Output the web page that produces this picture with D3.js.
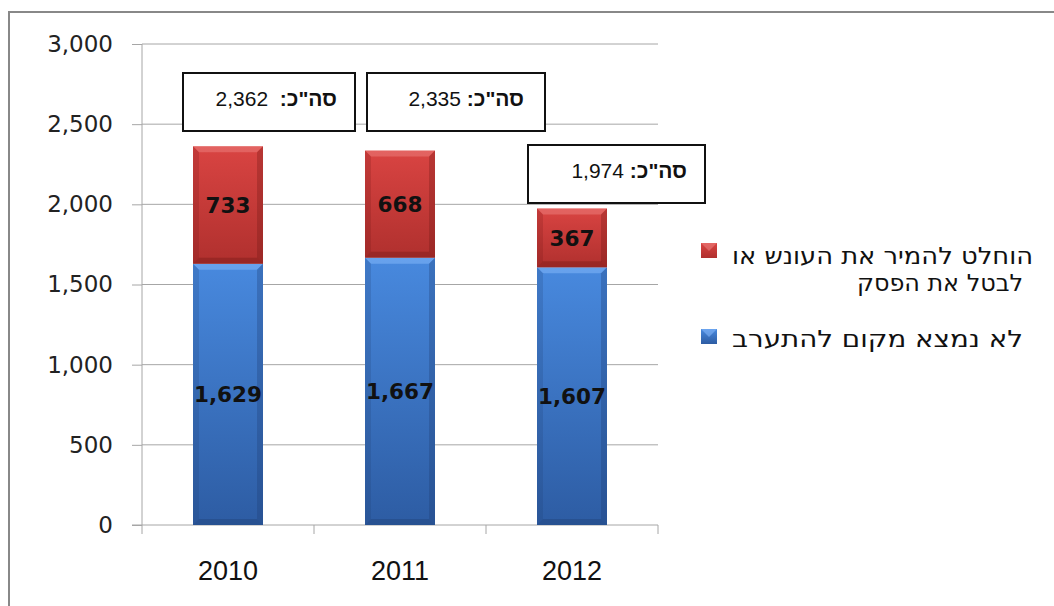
<!DOCTYPE html>
<html>
<head>
<meta charset="utf-8">
<script src="https://cdn.jsdelivr.net/npm/d3@7"></script>
<style>
  body { margin: 0; background: #fff; }
  svg { display: block; }
</style>
</head>
<body>
<div id="chart"></div>
<script>
const years = ["2010", "2011", "2012"]
const notFound = [1629, 1667, 1607]     // לא נמצא מקום להתערב
const changed = [733, 668, 367]         // הוחלט להמיר את העונש או לבטל את הפסק
const totalLabels = ["2,362", "2,335", "1,974"]
const yTicks = [0, 500, 1000, 1500, 2000, 2500, 3000]
const legendRed = ["הוחלט להמיר את העונש או", "לבטל את הפסק"]
const legendBlue = ["לא נמצא מקום להתערב"]

const width = 1054, height = 606
const svg = d3.select("#chart").append("svg")
  .attr("width", width).attr("height", height)

// outer frame
svg.append("path")
  .attr("d", "M9,620 L9,12 L1060,12")
  .attr("fill", "none").attr("stroke", "#888").attr("stroke-width", 2)

const x = d3.scaleBand().domain(years).range([142, 658]).paddingInner(0).paddingOuter(0)
const y = d3.scaleLinear().domain([0, 3000]).range([525, 44])
const barW = 70

const defs = svg.append("defs")
function grad(id, c1, c2) {
  const g = defs.append("linearGradient").attr("id", id)
    .attr("x1", 0).attr("y1", 0).attr("x2", 0).attr("y2", 1)
  g.append("stop").attr("offset", "0%").attr("stop-color", c1)
  g.append("stop").attr("offset", "100%").attr("stop-color", c2)
}
grad("gBlue", "#4889de", "#2d5ca3")
grad("gRed", "#d94442", "#b0302e")

// gridlines
svg.append("g").selectAll("line")
  .data(yTicks.filter(d => d > 0))
  .join("line")
    .attr("x1", 142).attr("x2", 658)
    .attr("y1", d => y(d)).attr("y2", d => y(d))
    .attr("stroke", "#a6a6a6").attr("stroke-width", 1)

// y axis
const yAxis = svg.append("g").attr("transform", "translate(142,0)")
  .call(d3.axisLeft(y).tickValues(yTicks).tickFormat(d3.format(",")).tickSize(10).tickPadding(19))
yAxis.select(".domain").attr("stroke", "#a6a6a6").attr("d", "M0," + y(0) + "V" + y(3000))
yAxis.selectAll(".tick line").attr("stroke", "#a6a6a6")
yAxis.selectAll("text").attr("font-family", "DejaVu Sans").attr("font-size", 23).attr("fill", "#222")

// x axis
const xg = svg.append("g")
xg.append("line").attr("x1", 132).attr("x2", 658).attr("y1", y(0)).attr("y2", y(0))
  .attr("stroke", "#a6a6a6")
xg.selectAll("line.tk").data([...years, null]).join("line").attr("class", "tk")
  .attr("x1", (d, i) => 142 + i * x.bandwidth()).attr("x2", (d, i) => 142 + i * x.bandwidth())
  .attr("y1", y(0)).attr("y2", y(0) + 9).attr("stroke", "#a6a6a6")
xg.selectAll("text").data(years).join("text")
  .attr("x", d => x(d) + x.bandwidth() / 2).attr("y", 580)
  .attr("text-anchor", "middle")
  .attr("font-family", "Liberation Sans, Arial").attr("font-size", 27).attr("fill", "#111")
  .text(d => d)

// bars with bevel
const data = years.map((yr, i) => ({ yr, blue: notFound[i], red: changed[i] }))
function bevelBar(g, x0, y0, w, h, fillId, light, dark) {
  const b = 6
  g.append("rect").attr("x", x0).attr("y", y0).attr("width", w).attr("height", h)
    .attr("fill", `url(#${fillId})`)
  g.append("polygon").attr("points", [[x0, y0], [x0 + w, y0], [x0 + w - b, y0 + b], [x0 + b, y0 + b]].join(" "))
    .attr("fill", light).attr("opacity", 0.45)
  g.append("polygon").attr("points", [[x0, y0], [x0 + b, y0 + b], [x0 + b, y0 + h - b], [x0, y0 + h]].join(" "))
    .attr("fill", dark).attr("opacity", 0.2)
  g.append("polygon").attr("points", [[x0 + w, y0], [x0 + w - b, y0 + b], [x0 + w - b, y0 + h - b], [x0 + w, y0 + h]].join(" "))
    .attr("fill", dark).attr("opacity", 0.3)
  g.append("polygon").attr("points", [[x0, y0 + h], [x0 + b, y0 + h - b], [x0 + w - b, y0 + h - b], [x0 + w, y0 + h]].join(" "))
    .attr("fill", dark).attr("opacity", 0.35)
}

const bars = svg.append("g")
data.forEach((d, i) => {
  const cx = x(d.yr) + x.bandwidth() / 2
  const x0 = cx - barW / 2
  const g = bars.append("g")
  bevelBar(g, x0, y(d.blue), barW, y(0) - y(d.blue), "gBlue", "#8fc0ff", "#1d3c70")
  bevelBar(g, x0, y(d.blue + d.red), barW, y(d.blue) - y(d.blue + d.red), "gRed", "#f08a88", "#6e1614")
  g.append("text").attr("x", cx).attr("y", (y(0) + y(d.blue)) / 2 + 8)
    .attr("text-anchor", "middle").attr("font-family", "DejaVu Sans").attr("font-weight", "bold")
    .attr("font-size", 21.5).attr("fill", "#111").text(d3.format(",")(d.blue))
  g.append("text").attr("x", cx).attr("y", (y(d.blue) + y(d.blue + d.red)) / 2 + 8)
    .attr("text-anchor", "middle").attr("font-family", "DejaVu Sans").attr("font-weight", "bold")
    .attr("font-size", 21.5).attr("fill", "#111").text(d3.format(",")(d.red))
})

// total boxes
const boxes = [
  { x: 183, y: 73, w: 172, h: 58, tx: 337, gap: "  " },
  { x: 367, y: 73, w: 178, h: 58, tx: 524, gap: " " },
  { x: 528, y: 145, w: 177, h: 58, tx: 687, gap: " " }
]
boxes.forEach((b, i) => {
  svg.append("rect").attr("x", b.x).attr("y", b.y).attr("width", b.w).attr("height", b.h)
    .attr("fill", "#fff").attr("stroke", "#111").attr("stroke-width", 2)
  const t = svg.append("text").attr("x", b.tx).attr("y", b.y + 33)
    .attr("direction", "rtl").attr("text-anchor", "start")
    .attr("font-family", "Liberation Sans, Arial").attr("font-size", 21).attr("fill", "#111")
  t.append("tspan").attr("font-weight", "bold").text("סה\"כ:")
  t.append("tspan").attr("xml:space", "preserve").text(b.gap + totalLabels[i])
})

// legend (right edge and line width)
const legend = [
  { lines: legendRed, fill: "gRed", light: "#f08a88", y: 243, ty: 264, rx: [1033, 1023], len: [301, 166] },
  { lines: legendBlue, fill: "gBlue", light: "#8fc0ff", y: 329, ty: 347, rx: [1023], len: [291] }
]
legend.forEach(l => {
  const g = svg.append("g")
  g.append("rect").attr("x", 701).attr("y", l.y).attr("width", 16).attr("height", 15)
    .attr("fill", `url(#${l.fill})`)
  g.append("polygon").attr("points", [[701, l.y], [717, l.y], [709, l.y + 8]].join(" "))
    .attr("fill", l.light).attr("opacity", 0.5)
  l.lines.forEach((s, j) => {
    g.append("text").attr("x", l.rx[j]).attr("y", l.ty + j * 27)
      .attr("direction", "rtl").attr("text-anchor", "start")
      .attr("textLength", l.len[j]).attr("lengthAdjust", "spacingAndGlyphs")
      .attr("font-family", "DejaVu Sans").attr("font-size", 23).attr("fill", "#111")
      .text(s)
  })
})
</script>
</body>
</html>
